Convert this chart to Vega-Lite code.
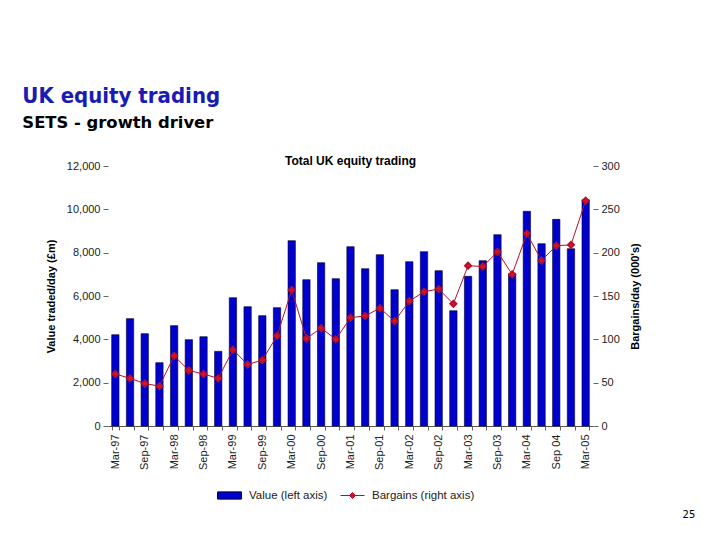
{
  "$schema": "https://vega.github.io/schema/vega-lite/v6.json",
  "padding": {"left": 22, "top": 84, "right": 20, "bottom": 10},
  "background": "white",
  "title": {
    "text": "UK equity trading",
    "subtitle": "SETS - growth driver",
    "anchor": "start",
    "frame": "bounds",
    "dx": -23,
    "font": "DejaVu Sans Condensed, DejaVu Sans",
    "fontSize": 22,
    "fontWeight": "bold",
    "color": "#1a1ab4",
    "subtitleFont": "DejaVu Sans",
    "subtitleFontSize": 16.4,
    "subtitleFontWeight": "bold",
    "subtitleColor": "#000000",
    "subtitlePadding": 7,
    "offset": 23
  },
  "vconcat": [
    {
      "title": {
        "text": "25",
        "orient": "bottom",
        "anchor": "end",
        "frame": "bounds",
        "dx": 55,
        "font": "DejaVu Sans",
        "fontSize": 10,
        "fontWeight": "normal",
        "color": "#000000",
        "offset": 41
      },
      "vconcat": [
        {
          "title": {
            "text": "Total UK equity trading",
            "font": "Liberation Sans",
            "fontSize": 12,
            "fontWeight": "bold",
            "color": "#000000",
            "anchor": "middle",
            "frame": "group",
            "offset": -8
          },
          "width": 485,
          "height": 260,
          "data": {
            "values": [
              {"quarter": "Mar-97", "value": 4215, "bargains": 60},
              {"quarter": "Jun-97", "value": 4954, "bargains": 55},
              {"quarter": "Sep-97", "value": 4262, "bargains": 49},
              {"quarter": "Dec-97", "value": 2923, "bargains": 46},
              {"quarter": "Mar-98", "value": 4631, "bargains": 81},
              {"quarter": "Jun-98", "value": 3985, "bargains": 64},
              {"quarter": "Sep-98", "value": 4123, "bargains": 60},
              {"quarter": "Dec-98", "value": 3446, "bargains": 55},
              {"quarter": "Mar-99", "value": 5923, "bargains": 88},
              {"quarter": "Jun-99", "value": 5508, "bargains": 71},
              {"quarter": "Sep-99", "value": 5092, "bargains": 76},
              {"quarter": "Dec-99", "value": 5462, "bargains": 104},
              {"quarter": "Mar-00", "value": 8554, "bargains": 157},
              {"quarter": "Jun-00", "value": 6754, "bargains": 101},
              {"quarter": "Sep-00", "value": 7538, "bargains": 113},
              {"quarter": "Dec-00", "value": 6800, "bargains": 100},
              {"quarter": "Mar-01", "value": 8277, "bargains": 125},
              {"quarter": "Jun-01", "value": 7262, "bargains": 127},
              {"quarter": "Sep-01", "value": 7908, "bargains": 136},
              {"quarter": "Dec-01", "value": 6292, "bargains": 121},
              {"quarter": "Mar-02", "value": 7585, "bargains": 144},
              {"quarter": "Jun-02", "value": 8046, "bargains": 155},
              {"quarter": "Sep-02", "value": 7169, "bargains": 158},
              {"quarter": "Dec-02", "value": 5323, "bargains": 141},
              {"quarter": "Mar-03", "value": 6908, "bargains": 185},
              {"quarter": "Jun-03", "value": 7631, "bargains": 184},
              {"quarter": "Sep-03", "value": 8831, "bargains": 201},
              {"quarter": "Dec-03", "value": 7031, "bargains": 175},
              {"quarter": "Mar-04", "value": 9908, "bargains": 222},
              {"quarter": "Jun-04", "value": 8415, "bargains": 191},
              {"quarter": "Sep 04", "value": 9538, "bargains": 208},
              {"quarter": "Dec-04", "value": 8185, "bargains": 209},
              {"quarter": "Mar-05", "value": 10446, "bargains": 260}
            ]
          },
          "encoding": {
            "x": {
              "field": "quarter",
              "type": "ordinal",
              "sort": null,
              "scale": {"paddingInner": 0.5, "paddingOuter": 0.25},
              "axis": {
                "title": null,
                "labelAngle": -90,
                "labelAlign": "right",
                "labelBaseline": "middle",
                "labelPadding": 4,
                "labelFontSize": 11,
                "labelColor": "#222222",
                "tickBand": "extent",
                "tickSize": 4,
                "tickColor": "#666666",
                "domainColor": "#555555",
                "labelExpr": "indexof(datum.label, 'Mar') == 0 || indexof(datum.label, 'Sep') == 0 ? datum.label : ''"
              }
            }
          },
          "layer": [
            {
              "mark": {"type": "bar", "stroke": "#000033", "strokeWidth": 0.6},
              "encoding": {
                "y": {
                  "field": "value",
                  "type": "quantitative",
                  "scale": {"domain": [0, 12000]},
                  "axis": {
                    "title": "Value traded/day (£m)",
                    "values": [0, 2000, 4000, 6000, 8000, 10000, 12000],
                    "format": ",.0f",
                    "grid": false,
                    "domain": false,
                    "tickSize": 5,
                    "tickColor": "#666666",
                    "labelPadding": 3,
                    "labelFontSize": 11,
                    "labelColor": "#222222",
                    "titleFontSize": 11,
                    "titleFontWeight": "bold",
                    "titleColor": "#000000",
                    "titlePadding": 10
                  }
                },
                "color": {
                  "datum": "Value (left axis)",
                  "scale": {"domain": ["Value (left axis)"], "range": ["#0000cc"]},
                  "legend": {
                    "title": null,
                    "orient": "none",
                    "direction": "horizontal",
                    "legendX": 109,
                    "legendY": 317,
                    "padding": 0,
                    "symbolType": "M-1,-0.3H1V0.3H-1Z",
                    "symbolSize": 576,
                    "symbolStrokeWidth": 1,
                    "labelFont": "Liberation Sans",
                    "labelFontSize": 11.5,
                    "labelColor": "#222222",
                    "labelOffset": 7,
                    "encode": {
                      "symbols": {
                        "update": {
                          "fill": {"value": "#0000cc"},
                          "stroke": {"value": "#000033"},
                          "opacity": {"value": 1},
                          "fillOpacity": {"value": 1}
                        }
                      }
                    }
                  }
                }
              }
            },
            {
              "mark": {
                "type": "line",
                "strokeWidth": 1,
                "point": {"shape": "diamond", "filled": true, "size": 36, "fill": "#e8112a", "opacity": 1}
              },
              "encoding": {
                "y": {
                  "field": "bargains",
                  "type": "quantitative",
                  "scale": {"domain": [0, 300]},
                  "axis": {
                    "orient": "right",
                    "title": "Bargains/day (000's)",
                    "values": [0, 50, 100, 150, 200, 250, 300],
                    "grid": false,
                    "domain": false,
                    "tickSize": 5,
                    "tickColor": "#666666",
                    "labelPadding": 3,
                    "labelFontSize": 11,
                    "labelColor": "#222222",
                    "titleFontSize": 11,
                    "titleFontWeight": "bold",
                    "titleColor": "#000000",
                    "titleAngle": 270,
                    "titleBaseline": "top",
                    "titlePadding": 10
                  }
                },
                "stroke": {
                  "datum": "Bargains (right axis)",
                  "scale": {"domain": ["Bargains (right axis)"], "range": ["#b5102a"]},
                  "legend": {
                    "title": null,
                    "orient": "none",
                    "direction": "horizontal",
                    "legendX": 232,
                    "legendY": 317,
                    "padding": 0,
                    "symbolType": "M-1,0H1M0,-0.25L0.25,0L0,0.25L-0.25,0Z",
                    "symbolSize": 576,
                    "symbolStrokeWidth": 1,
                    "labelFont": "Liberation Sans",
                    "labelFontSize": 11.5,
                    "labelColor": "#222222",
                    "labelOffset": 7,
                    "encode": {
                      "symbols": {
                        "update": {
                          "fill": {"value": "#e8112a"},
                          "stroke": {"value": "#b5102a"},
                          "opacity": {"value": 1},
                          "fillOpacity": {"value": 1}
                        }
                      }
                    }
                  }
                }
              }
            }
          ],
          "resolve": {"scale": {"y": "independent"}}
        }
      ]
    }
  ],
  "config": {
    "view": {"stroke": null},
    "font": "Liberation Sans",
    "axis": {"labelFont": "Liberation Sans", "titleFont": "Liberation Sans"}
  }
}
